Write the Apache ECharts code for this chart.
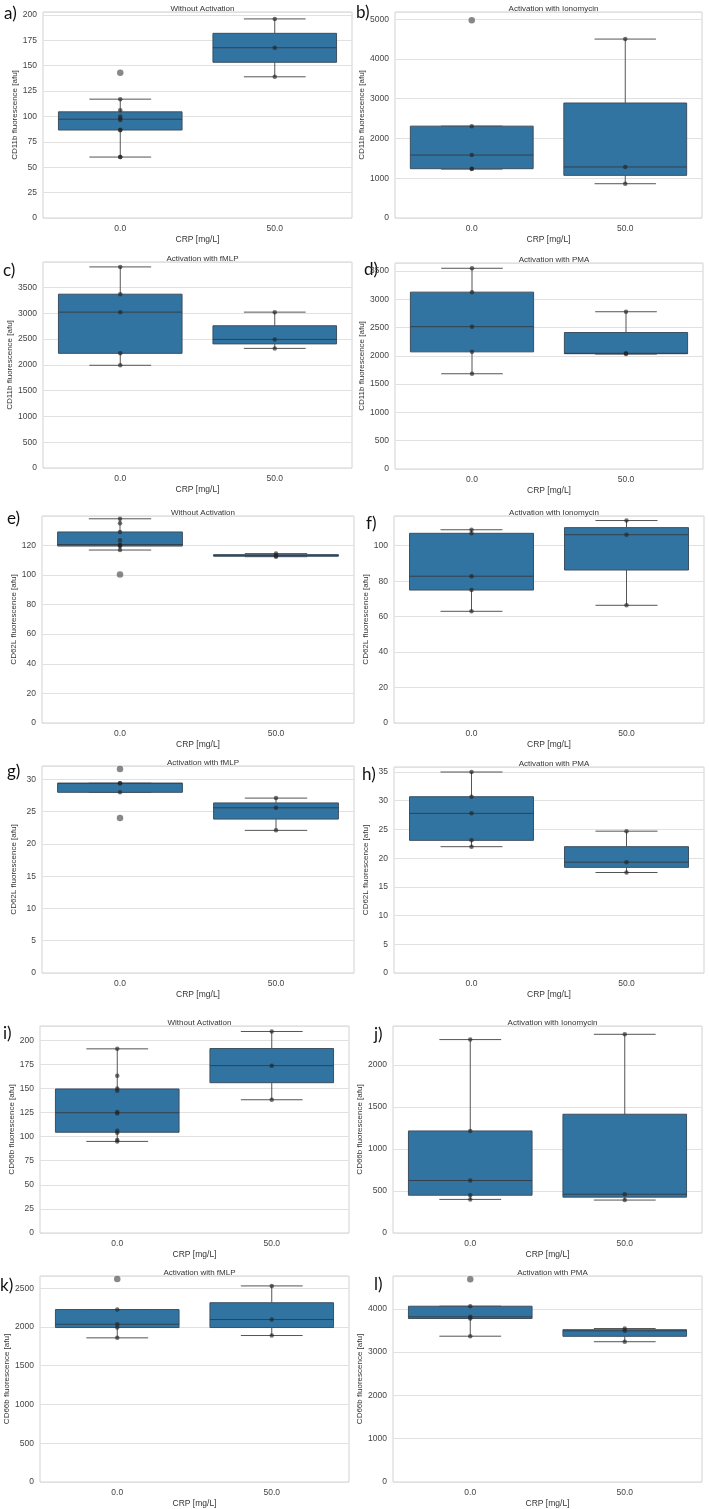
<!DOCTYPE html>
<html>
<head>
<meta charset="utf-8">
<script src="https://cdn.jsdelivr.net/npm/echarts@6/dist/echarts.min.js"></script>
<style>
  html, body { margin: 0; padding: 0; background: #fff; }
  #chart { width: 709px; height: 1509px; }
</style>
</head>
<body>
<div id="chart"></div>
<script>
// CRP groups on the x axis
const crp = ['0.0', '50.0'];

// raw values per panel: [0.0 mg/L, 50.0 mg/L]
const cd11bNone = [[60, 60, 86.5, 87, 96.5, 98, 100, 106, 117, 143], [139, 167.6, 196]];
const cd11bIono = [[1230, 1240, 1583, 2310, 4975], [862, 1283, 4500]];
const cd11bFmlp = [[1992, 2224, 3023, 3371, 3900], [2320, 2494, 3023]];
const cd11bPma = [[1683, 2070, 2515, 3125, 3547], [2030, 2045, 2779]];
const cd62lNone = [[100.2, 116.8, 119.5, 120, 120.5, 123.4, 129, 134.9, 137.9], [112.3, 113.0, 114.4]];
const cd62lIono = [[63, 75, 82.8, 107, 109], [66.4, 106.2, 114.2]];
const cd62lFmlp = [[24.0, 28.0, 29.4, 29.4, 31.6], [22.1, 25.6, 27.1]];
const cd62lPma = [[22.0, 23.1, 27.8, 30.7, 35.0], [17.5, 19.3, 24.7]];
const cd66bNone = [[95, 96.5, 104, 106, 124, 125.5, 147.5, 150, 163, 191], [138.2, 173.6, 209]];
const cd66bIono = [[400, 450, 625, 1215, 2303], [392, 462, 2366]];
const cd66bFmlp = [[1860, 1993, 2036, 2225, 2620], [1890, 2096, 2530]];
const cd66bPma = [[3368, 3776, 3815, 4060, 4686], [3240, 3491, 3545]];

const panelData = [cd11bNone, cd11bIono, cd11bFmlp, cd11bPma, cd62lNone, cd62lIono,
                   cd62lFmlp, cd62lPma, cd66bNone, cd66bIono, cd66bFmlp, cd66bPma];
const titles = ['Without Activation', 'Activation with Ionomycin', 'Activation with fMLP', 'Activation with PMA',
                'Without Activation', 'Activation with Ionomycin', 'Activation with fMLP', 'Activation with PMA',
                'Without Activation', 'Activation with Ionomycin', 'Activation with fMLP', 'Activation with PMA'];
const yNames = ['CD11b fluorescence [afu]', 'CD11b fluorescence [afu]', 'CD11b fluorescence [afu]', 'CD11b fluorescence [afu]',
                'CD62L fluorescence [afu]', 'CD62L fluorescence [afu]', 'CD62L fluorescence [afu]', 'CD62L fluorescence [afu]',
                'CD66b fluorescence [afu]', 'CD66b fluorescence [afu]', 'CD66b fluorescence [afu]', 'CD66b fluorescence [afu]'];
const tickSteps = [25, 1000, 500, 500, 20, 20, 5, 5, 25, 500, 500, 1000];
const letters = ['a)', 'b)', 'c)', 'd)', 'e)', 'f)', 'g)', 'h)', 'i)', 'j)', 'k)', 'l)'];

// plot areas [left, top, right, bottom] in px
const boxes = [
  [43, 12, 352, 218], [395, 12, 702, 218],
  [43, 262, 352, 468], [395, 263, 703, 469],
  [42, 516, 354, 723], [394, 516, 704, 723],
  [42, 766, 354, 973], [394, 767, 704, 973],
  [40, 1026, 349, 1233], [393, 1026, 702, 1233],
  [40, 1276, 349, 1483], [393, 1276, 702, 1483]
];
const letterPos = [
  [4, 5], [356, 4], [3, 262], [364, 261], [7, 510], [366, 515],
  [7, 763], [362, 766], [3, 1025], [374, 1026], [0, 1277], [374, 1276]
];

function pct(sorted, p) {
  const idx = (sorted.length - 1) * p;
  const lo = Math.floor(idx), hi = Math.ceil(idx);
  return sorted[lo] + (sorted[hi] - sorted[lo]) * (idx - lo);
}

function boxStats(vals) {
  const s = vals.slice().sort((a, b) => a - b);
  const q1 = pct(s, 0.25), med = pct(s, 0.5), q3 = pct(s, 0.75);
  const iqr = q3 - q1;
  const inside = s.filter(v => v >= q1 - 1.5 * iqr && v <= q3 + 1.5 * iqr);
  const out = s.filter(v => v < q1 - 1.5 * iqr || v > q3 + 1.5 * iqr);
  return { stats: [inside[0], q1, med, q3, inside[inside.length - 1]], inside, out };
}

function renderBox(params, api) {
  const x = api.value(0);
  const lo = api.coord([x, api.value(1)]);
  const q1 = api.coord([x, api.value(2)]);
  const md = api.coord([x, api.value(3)]);
  const q3 = api.coord([x, api.value(4)]);
  const hi = api.coord([x, api.value(5)]);
  const band = api.size([1, 0])[0];
  const bw = band * 0.8, cw = bw * 0.5;
  const cx = lo[0];
  const ls = { stroke: '#555', lineWidth: 1 };
  return {
    type: 'group',
    children: [
      { type: 'line', shape: { x1: cx, y1: q3[1], x2: cx, y2: hi[1] }, style: ls },
      { type: 'line', shape: { x1: cx, y1: q1[1], x2: cx, y2: lo[1] }, style: ls },
      { type: 'line', shape: { x1: cx - cw / 2, y1: hi[1], x2: cx + cw / 2, y2: hi[1] }, style: ls },
      { type: 'line', shape: { x1: cx - cw / 2, y1: lo[1], x2: cx + cw / 2, y2: lo[1] }, style: ls },
      { type: 'rect', shape: { x: cx - bw / 2, y: q3[1], width: bw, height: Math.max(q1[1] - q3[1], 1) },
        style: { fill: '#3274a1', stroke: '#3d4f60', lineWidth: 1 } },
      { type: 'line', shape: { x1: cx - bw / 2, y1: md[1], x2: cx + bw / 2, y2: md[1] },
        style: { stroke: '#34404b', lineWidth: 1 } }
    ]
  };
}

const font = 'Liberation Sans';
const grid = [], xAxis = [], yAxis = [], series = [], title = [], graphic = [];

panelData.forEach((groups, i) => {
  const [l, t, r, b] = boxes[i];
  grid.push({ left: l, top: t, width: r - l, height: b - t, show: true,
              borderColor: '#d2d2d2', borderWidth: 1, backgroundColor: '#fff' });

  const all = groups[0].concat(groups[1]);
  const dMin = Math.min(...all), dMax = Math.max(...all);
  const yMax = dMax + 0.05 * (dMax - dMin);

  xAxis.push({
    type: 'category', gridIndex: i, data: crp,
    axisLine: { show: false }, axisTick: { show: false },
    axisLabel: { color: '#444', fontSize: 8.5, fontFamily: font, margin: 6 },
    name: 'CRP [mg/L]', nameLocation: 'middle', nameGap: 17,
    nameTextStyle: { color: '#333', fontSize: 8.5, fontFamily: font }
  });
  yAxis.push({
    type: 'value', gridIndex: i, min: 0, max: yMax, interval: tickSteps[i],
    axisLine: { show: false }, axisTick: { show: false },
    axisLabel: { color: '#444', fontSize: 8.5, fontFamily: font, margin: 6,
                 showMaxLabel: false, formatter: v => String(v) },
    splitLine: { lineStyle: { color: '#e1e1e1', width: 1 } },
    name: yNames[i], nameLocation: 'middle', nameGap: 24,
    nameTextStyle: { color: '#333', fontSize: 8, fontFamily: font }
  });

  title.push({
    text: titles[i], left: (l + r) / 2, top: t - 12, textAlign: 'center',
    textStyle: { fontSize: 8, fontWeight: 'normal', color: '#333', fontFamily: font }
  });
  graphic.push({
    type: 'text', left: letterPos[i][0], top: letterPos[i][1],
    style: { text: letters[i], font: '17px Lato', fill: '#111' }
  });

  const boxRows = [], pts = [], fliers = [];
  groups.forEach((vals, g) => {
    const bs = boxStats(vals);
    boxRows.push([g].concat(bs.stats));
    bs.inside.forEach(v => pts.push([g, v]));
    bs.out.forEach(v => fliers.push([g, v]));
  });

  series.push({
    type: 'custom', xAxisIndex: i, yAxisIndex: i, renderItem: renderBox,
    encode: { x: 0, y: [1, 2, 3, 4, 5] }, data: boxRows, z: 2, silent: true
  });
  series.push({
    type: 'scatter', xAxisIndex: i, yAxisIndex: i, data: fliers, symbolSize: 6.5,
    itemStyle: { color: '#6a6a6a' }, z: 3, silent: true
  });
  series.push({
    type: 'scatter', xAxisIndex: i, yAxisIndex: i, data: pts, symbolSize: 4.5,
    itemStyle: { color: 'rgba(35,35,35,0.8)' }, z: 4, silent: true
  });
});

const chart = echarts.init(document.getElementById('chart'), null, { renderer: 'canvas' });
chart.setOption({
  backgroundColor: '#fff',
  animation: false,
  title, grid, xAxis, yAxis, series, graphic
});
window.onresize = function () { chart.resize(); };
</script>
</body>
</html>
